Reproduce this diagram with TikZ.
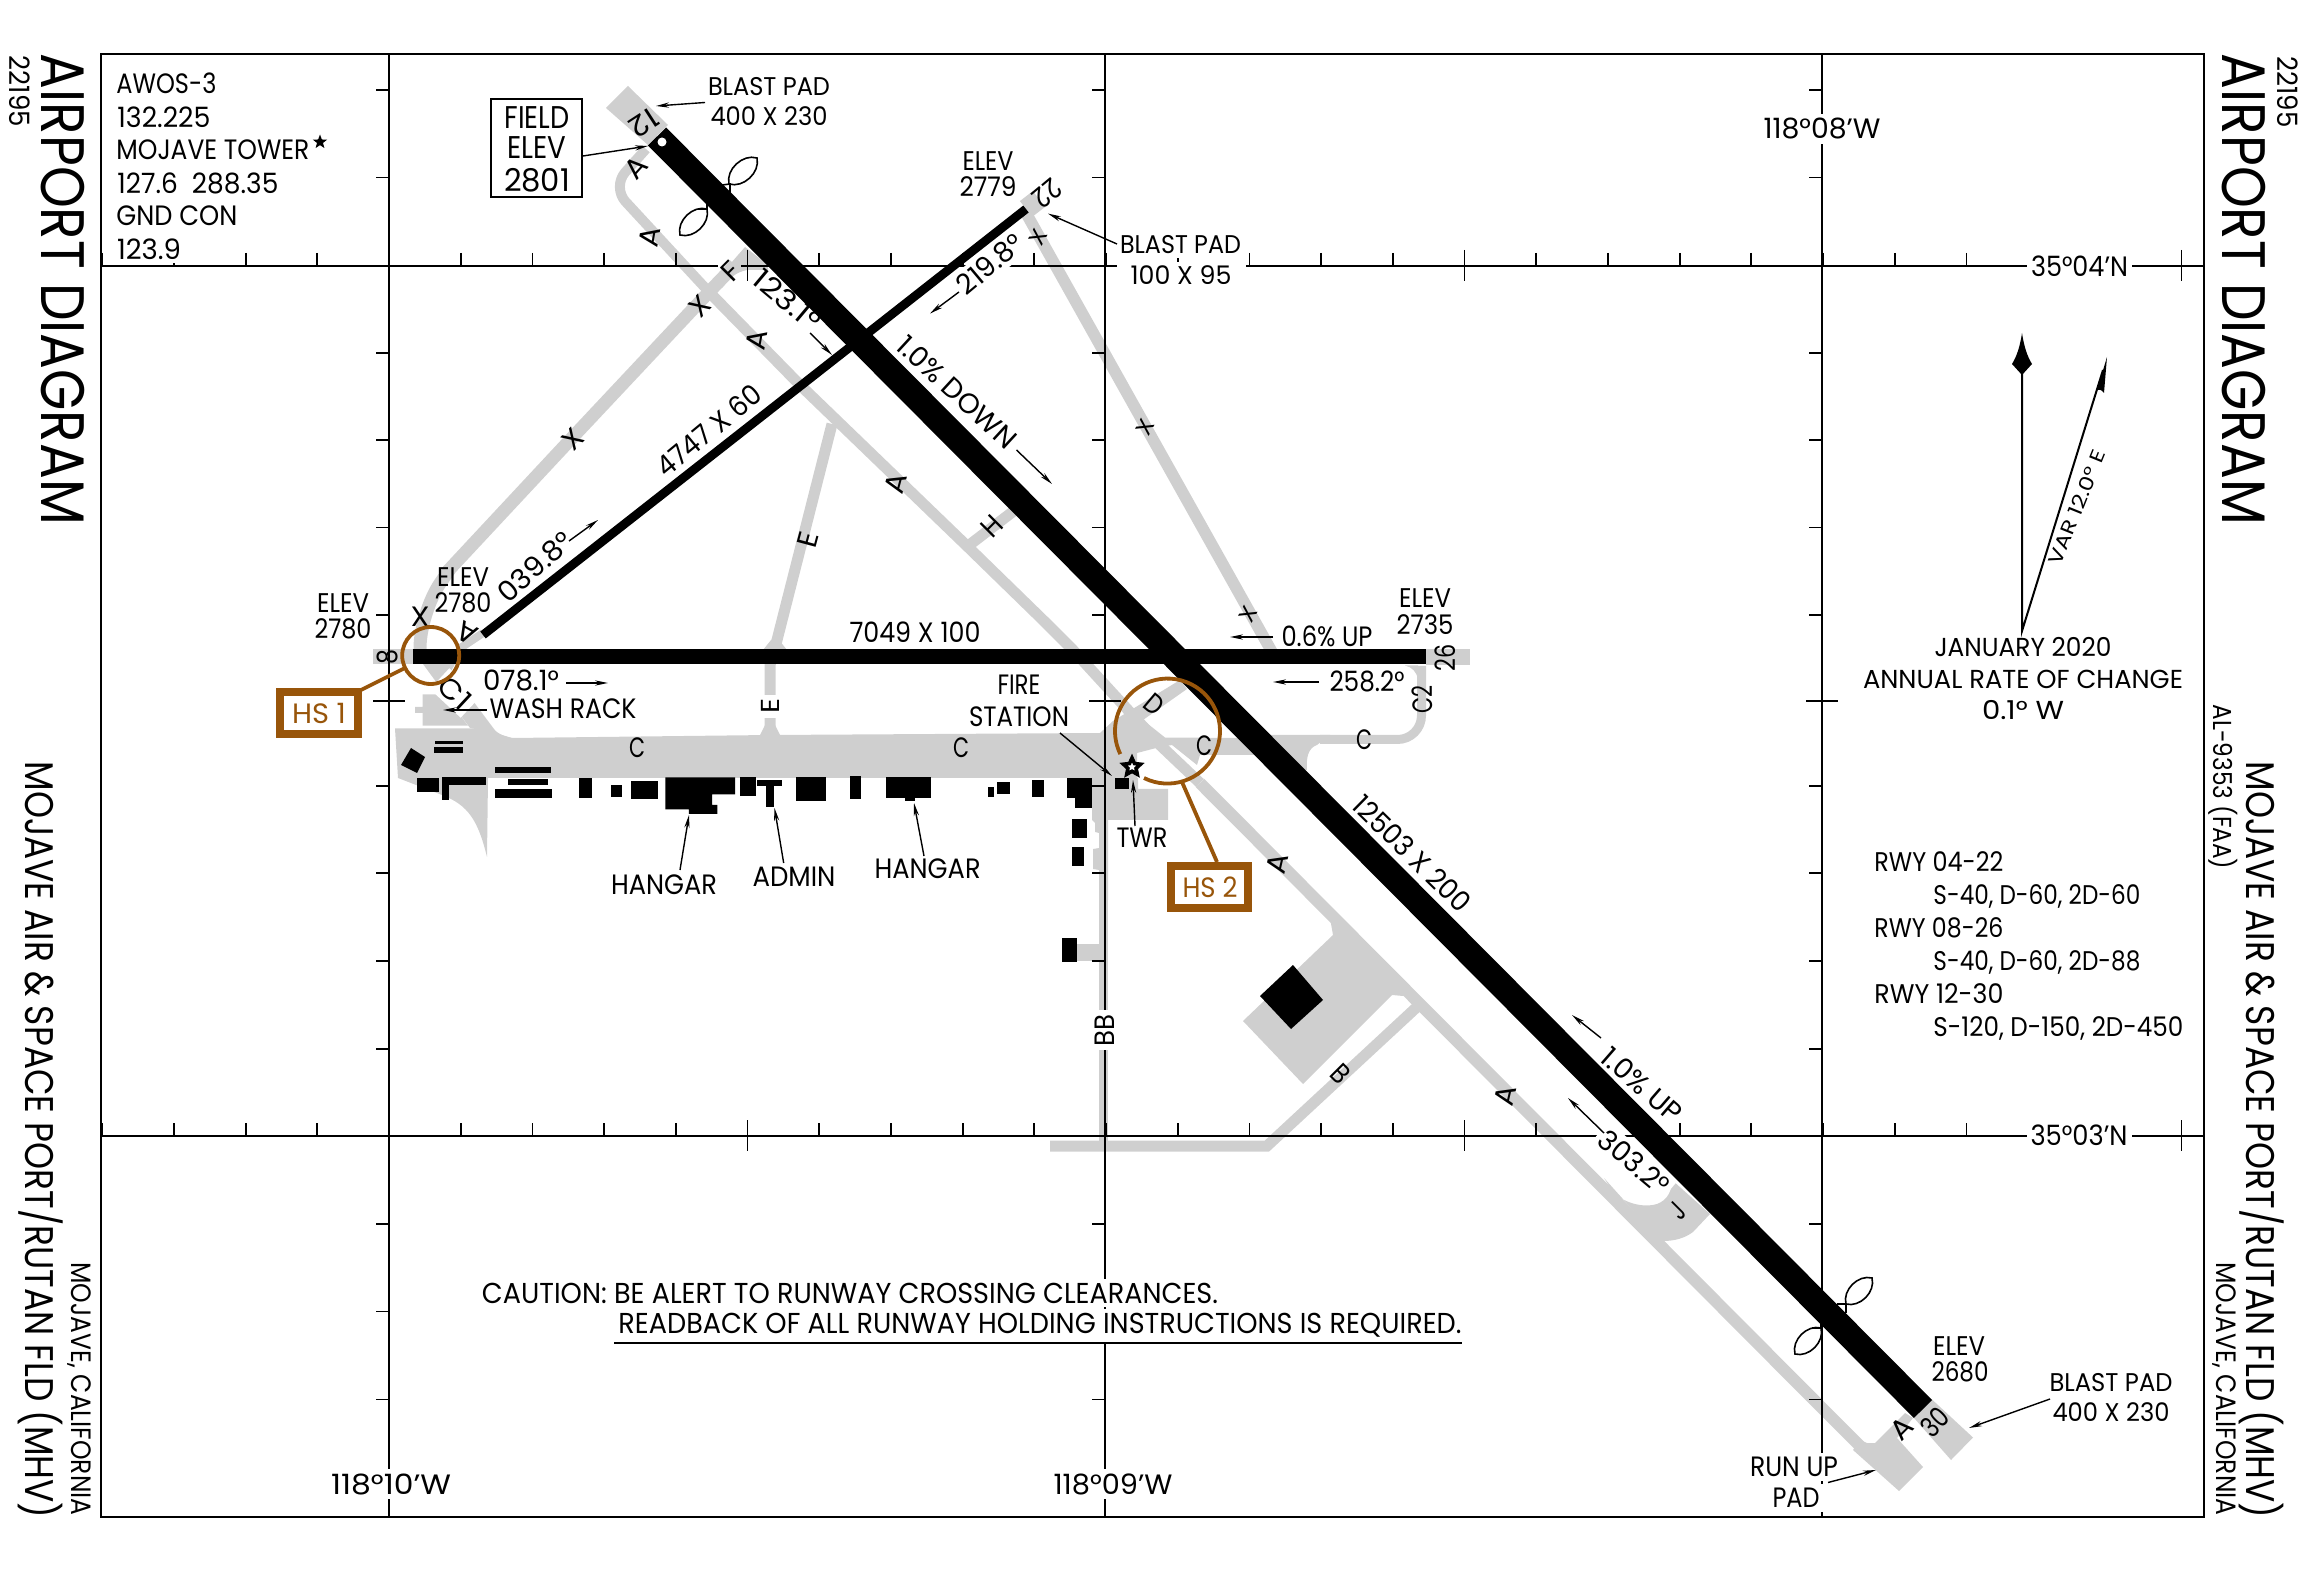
\documentclass[tikz,border=0pt]{standalone}
\usepackage{fontspec}
\usepackage{graphicx}
\setmainfont{Poppins}[FakeStretch=0.8]
\usetikzlibrary{arrows.meta,shapes.geometric}
\definecolor{gry}{HTML}{CFCFCF}
\definecolor{hsb}{HTML}{98550A}
\newcommand{\TT}[3]{\fontsize{#2}{#2}\selectfont\resizebox{\dimexpr #1pt/2\relax}{\height}{#3}}
\newcommand{\lb}[7][]{\node[lbl,#1] (#2) at (#3) [rotate=#4] {\TT{#5}{#6}{#7}};}
\tikzset{
 lbl/.style={inner sep=0pt,anchor=center,text=black},
 msk/.style={fill=white,inner sep=2pt},
 tx/.style={draw=gry,line width=5.5pt,line join=round},
 gridl/.style={draw=black,line width=1.15pt},
 tickl/.style={draw=black,line width=0.9pt},
 arr/.style={draw=black,line width=0.7pt,-{Stealth[length=6.5pt,width=2.6pt]}},
 bld/.style={fill=black},
 leaf/.style={draw=black,line width=0.8pt},
 hs/.style={draw=hsb,line width=1.9pt},
}
\begin{document}
\begin{tikzpicture}[x=0.5pt,y=-0.5pt]
\useasboundingbox (0,0) rectangle (2299,1593);
% ---------- pavement
\fill[gry] (606,108)--(628,86)--(668,125)--(648,145)--cycle;
\fill[gry] (1951,1460)--(1973,1437.5)--(1932,1399.5)--(1914,1418)--cycle;
\fill[gry] (373,649)rectangle(413,664.5);
\fill[gry] (1426,649)rectangle(1470,665);
\draw[tx,line width=10pt] (1026,209)--(1039,199);
\draw[tx,rounded corners=10pt,line width=5pt] (646,149)--(612,187)--(709,292);
\draw[tx] (709,292)--(800,385)--(968,547)--(1045,622)--(1073,650)--(1160,745)--(1200,783);
\draw[tx,line width=6pt] (1200,783)--(1820,1406)--(1860,1446);
\draw[tx,line width=6.5pt] (709,292)--(571,439)--(447,572);
\draw[tx,line width=6.5pt,rounded corners=18pt] (450,569)--(420,612)--(420,652);
\draw[tx,line width=4pt] (459,649)--(483,633);
\draw[tx] (968,546)--(1015,510);
\draw[tx,line width=5.5pt] (832,424)--(775,648)--(770,665)--(770,737);
\draw[tx,line width=5.8pt] (1026,213)--(1272,652);
\draw[tx,line width=6.5pt] (709,292)--(735,265);
\fill[gry] (717,279)--(745,247)--(768,265)--(768,270)--(747,270)..controls(737,272)and(728,278)..(722,288)--cycle;
% C1 and wash rack
\fill[gry] (423,664)--(442,690)--(470,728)--(497,733)--(470,697)--(448,677)--(455,664)--cycle;
\fill[gry] (422.7,694.3)--(445,694.3)--(468,725.7)--(422.7,725.7)--(422.7,713)--(415,713)--(415,707)--(422.7,707)--cycle;
\fill[gry] (470,697)--(487,722)..controls(493,730)and(500,736)..(512,738)--(490,742)--(460,710)--cycle;
% main apron band
\fill[gry] (395,728.5)--(480,728.5)--(512,738)--(770,735)--(1100,733)--(1113,721)--(1180,680)--(1187,689)--(1143,720)--(1165,737.5)--(1240,738)--(1270,755)--(1200,755)--(1197,765)--(1172,745)--(1160,747)--(1137,753)--(1137,778)--(488,778)--(487,857)..controls(478,820)and(468,805)..(442,795)--(398,778)--cycle;
% E flares
\fill[gry] (759,737)--(765,725)--(775,725)--(781,737)--cycle;
\fill[gry] (763,650)--(771,640)--(779,640)--(787,650)--cycle;
% east C / C2
\draw[tx,line width=4.5pt,rounded corners=12pt] (1421.5,666)--(1421.5,739.5)--(1320,739.5);
\fill[gry] (1240,735)--(1330,735)--(1317,745)..controls(1308,748)and(1306,758)..(1307,770)--(1280,770)--cycle;
\fill[gry] (1405,665.5)--(1418,665.5)--(1418,680)..controls(1417,672)and(1412,667)..(1405,665.5)--cycle;
% lower apron + BB
\fill[gry] (1108,900)--(1108,820)--(1168,820)--(1168,789)--(1138,789)--(1138,778)--(1092,778)--(1092,820)--(1095,823)--(1095,832)--(1099,833)--(1099,848)--(1093,849)--(1093,869)--(1099,870)--(1099,900)--cycle;
\draw[tx,line width=4.5pt] (1103.5,890)--(1103.5,1146);
\fill[gry] (1075,944)rectangle(1102,961);
% B, horizontal strip
\draw[tx,line join=miter] (1050,1146)--(1267,1146)--(1418,1006);
% big apron
\fill[gry] (1243,1021)--(1333,935)--(1330,918)--(1410,990)--(1403,996)--(1392,995)--(1303,1084)--cycle;
% J pad
\fill[gry] (1604,1178)--(1613,1192)..controls(1625,1204)and(1645,1208)..(1657,1204)..controls(1668,1200)and(1672,1190)..(1672,1180)--(1710,1214)--(1693,1232)..controls(1685,1238)and(1675,1241)..(1663,1241)--(1640,1218)--cycle;
% run-up pad
\fill[gry] (1853,1450)--(1860,1440)--(1867,1443)--(1875,1443)--(1905,1413)--(1913,1418)--(1897,1438)--(1923,1467)--(1899,1491)--cycle;
% ---------- frame and grid
\draw[gridl] (101,54) rectangle (2204,1517);
\draw[gridl] (101,266)--(718,266) (741,266)--(2204,266);
\draw[gridl] (101,1136)--(2204,1136);
\draw[gridl] (389,54)--(389,1517) (1105,54)--(1105,1517) (1822,54)--(1822,1517);
\foreach \i in {0,...,29}{
 \pgfmathsetmacro{\xx}{102.2+71.7*\i}
 \pgfmathtruncatemacro{\mm}{mod(\i,10)}
 \ifnum\mm=9
  \draw[tickl] (\xx,250)--(\xx,281) (\xx,1120)--(\xx,1151);
 \else
  \draw[tickl] (\xx,253)--(\xx,266) (\xx,1123)--(\xx,1136);
 \fi
}
\foreach \lx in {389,1105,1822}{
 \foreach \yy in {90,177.5,353,440,527.5,615,785.7,873.3,961,1048.7,1223.7,1311.5,1399.5,1487}{
  \draw[tickl] (\lx-13,\yy)--(\lx,\yy);
 }
 \draw[tickl] (\lx-16,701)--(\lx+16,701);
}
% ---------- masked labels
\lb[msk]{t1239}{149,249}{0}{64}{14}{123.9}
\node[lbl,msk,inner xsep=7pt,inner ysep=2pt] (t100) at (1181,275) {\TT{101}{12.8}{100 X 95}};
\lb[msk]{tblast2}{1180.5,245}{0}{121}{12.8}{BLAST PAD}
\lb[msk]{t219}{990,264}{40}{77}{14}{219.8°}
\lb[msk]{t303}{1634,1162}{-40}{83}{14}{303.2°}
\lb[msk]{tlat4}{2079.5,266}{0}{97}{14}{35°04’N}
\lb[msk]{tlat3}{2079,1135}{0}{97}{14}{35°03’N}
\lb[msk]{tlon8}{1822,129}{0}{117}{14}{118°08’W}
\lb[msk]{tlon10}{391,1484}{0}{120}{14}{118°10’W}
\lb[msk]{tlon9}{1113,1484}{0}{119}{14}{118°09’W}
\lb[msk]{tbb}{1105,1030}{90}{32}{14}{BB}
\lb[msk]{te2}{770.5,706.5}{90}{15}{13}{E}
\lb[msk]{tc1}{455,693}{-43}{34}{14}{C1}
\lb[msk]{trun}{1794,1467}{0}{88}{14}{RUN UP}
\lb[msk]{tpad}{1796,1498}{0}{47}{14}{PAD}
\lb[msk]{tcau1}{850,1293}{0}{736}{14.4}{CAUTION: BE ALERT TO RUNWAY CROSSING CLEARANCES.}
\lb[msk]{tcau2}{1040,1325.5}{0}{843}{14.4}{READBACK OF ALL RUNWAY HOLDING INSTRUCTIONS IS REQUIRED.}
\draw[draw=black,line width=0.8pt] (614,1343)--(1462,1343);
% ---------- arrest-system loops
\draw[leaf] (729,184) to[bend left=60] (757,158) to[bend left=60] (729,184);
\draw[leaf] (707,209) to[bend left=60] (680,235) to[bend left=60] (707,209);
\draw[leaf] (722,185)--(730,184)--(730,193) (698,209)--(707,209)--(707,200);
\draw[leaf] (1846,1304) to[bend left=60] (1872,1278) to[bend left=60] (1846,1304);
\draw[leaf] (1821,1328) to[bend left=60] (1795,1354) to[bend left=60] (1821,1328);
\draw[leaf] (1837,1304)--(1846,1304)--(1846,1313) (1812,1328)--(1821,1328)--(1821,1319);
% ---------- runways
\draw[draw=black,line width=7.7pt] (412.7,656.5)--(1426,656.5);
\draw[draw=black,line width=4.4pt] (483,635)--(1026,209);
\draw[draw=black,line width=12.8pt] (657,136.5)--(1923,1409);
\fill[white] (662,142) circle[radius=4.5];
% ---------- buildings
\fill[bld] (411,748)--(425,757)--(417,773)--(401,765)--cycle;
\fill[bld] (435,741)rectangle(463,744.5);
\fill[bld] (434,747.5)rectangle(463,753.5);
\fill[bld] (417,778)rectangle(439,792);
\fill[bld] (442,777.3)rectangle(486,785.3);
\fill[bld] (442,777.3)rectangle(448.7,800);
\fill[bld] (495,767)rectangle(551,772.7);
\fill[bld] (507.7,778.7)rectangle(548.3,784.7);
\fill[bld] (495.3,789.3)rectangle(551.7,798.3);
\fill[bld] (579,778)rectangle(591.7,798.3);
\fill[bld] (611.3,784.7)rectangle(622,797);
\fill[bld] (631,781)rectangle(658,799.3);
\fill[bld] (665.3,777.3)--(735.2,777.3)--(735.2,794.3)--(712.2,794.3)--(712.2,805)--(717.3,805)--(717.3,814)--(688.8,814)--(688.8,809.3)--(665.3,809.3)--cycle;
\fill[bld] (739.8,777)rectangle(756.1,796);
\fill[bld] (756.6,780)rectangle(782.1,786);
\fill[bld] (765.8,786)rectangle(774,806.7);
\fill[bld] (796.4,777.3)rectangle(825.5,800.7);
\fill[bld] (849.5,776.3)rectangle(861.2,798.7);
\fill[bld] (885.7,777)rectangle(931,797.7);
\fill[bld] (904.6,797.7)rectangle(914.8,801);
\fill[bld] (987.8,786.7)rectangle(994.4,797);
\fill[bld] (997,782)rectangle(1010.2,794.3);
\fill[bld] (1031.5,779.7)rectangle(1044,797.3);
\fill[bld] (1067.3,778)rectangle(1092,797.7);
\fill[bld] (1074.7,797.7)rectangle(1092,808.3);
\fill[bld] (1071.7,819.3)rectangle(1086.7,838.3);
\fill[bld] (1071.7,846.7)rectangle(1084.3,865.7);
\fill[bld] (1062,937.7)rectangle(1077.3,961.7);
\fill[bld] (1114.7,778.3)rectangle(1129.3,789);
\fill[bld] (1293,965)--(1323,1000)--(1291,1029)--(1260,996)--cycle;
% tower star
\node[star,star points=5,star point ratio=2.1,fill=white,draw=black,line width=1.8pt,minimum size=9pt,inner sep=0pt] (twrstar) at (1132,767) {};
% ---------- title and margin text
\lb{tbl22195}{19.5,91.5}{-90}{71}{14}{22195}
\lb{tbrl22195}{2288,92}{-90}{71}{14}{22195}
\lb{ttitleL}{62.5,289.5}{-90}{471}{30.7}{AIRPORT DIAGRAM}
\lb{ttitleR}{2244,289.5}{-90}{471}{30.7}{AIRPORT DIAGRAM}
\lb{tnameL}{41,1140}{-90}{757}{20}{MOJAVE AIR \& SPACE PORT/RUTAN FLD (MHV)}
\lb{tnameR}{2262,1140}{-90}{757}{20}{MOJAVE AIR \& SPACE PORT/RUTAN FLD (MHV)}
\lb{tcityL}{79,1389}{-90}{253}{14}{MOJAVE, CALIFORNIA}
\lb{tcityR}{2224,1389}{-90}{253}{14}{MOJAVE, CALIFORNIA}
\lb{tal}{2223,787}{-90}{165}{13}{AL-9353 (FAA)}
% comms block
\node[lbl,anchor=west] (c1) at (116,83.5) {\TT{100}{14}{AWOS-3}};
\node[lbl,anchor=west] (c2) at (117,117) {\TT{93}{14}{132.225}};
\node[lbl,anchor=west] (c3) at (116,150) {\TT{193}{14}{MOJAVE TOWER}};
\node[star,star points=5,star point ratio=2.4,fill=black,inner sep=0pt,minimum size=7.5pt] (ctstar) at (320,142) {};
\node[lbl,anchor=west] (c4) at (117,183) {\TT{161}{14}{127.6\ \ 288.35}};
\node[lbl,anchor=west] (c5) at (116,216) {\TT{121}{14}{GND CON}};
% field elevation box
\draw[draw=black,fill=white,line width=1pt] (491,98.6) rectangle (582,197.5);
\lb{tf1}{537,118}{0}{65}{15.7}{FIELD}
\lb{tf2}{537,148}{0}{59}{15.7}{ELEV}
\lb{tf3}{537,180}{0}{66}{15.7}{2801}
\draw[arr] (583,156)--(648,146);
% blast pads
\lb{tb1a}{769,87}{0}{122}{12.8}{BLAST PAD}
\lb{tb1b}{769,116}{0}{117}{12.8}{400 X 230}
\draw[arr] (705,102.5)--(656,106);
\draw[arr] (1117,244)--(1048,213.6);
\lb{tb3a}{2111,1383}{0}{123}{12.8}{BLAST PAD}
\lb{tb3b}{2111,1412}{0}{117}{12.8}{400 X 230}
\draw[arr] (2050,1399)--(1969,1428);
\draw[arr] (1828,1482.5)--(1876,1470);
% runway end numbers
\lb{tr12}{644,123}{213}{28}{14}{12}
\lb{tr22}{1047,193}{220}{28}{14}{22}
\lb{tr8}{387,657}{90}{15}{14}{8}
\lb{tr26}{1445,658}{90}{27}{14}{26}
\lb{tr30}{1935,1422}{45}{28}{14}{30}
% elevations
\lb{te1a}{343,603}{0}{52}{13.5}{ELEV}
\lb{te1b}{343,629}{0}{57}{13.5}{2780}
\lb{te2a}{463,577}{0}{52}{13.5}{ELEV}
\lb{te2b}{463,603}{0}{57}{13.5}{2780}
\lb{te3a}{988,161}{0}{51}{13.5}{ELEV}
\lb{te3b}{988,187}{0}{57}{13.5}{2779}
\lb{te4a}{1425,598}{0}{52}{13.5}{ELEV}
\lb{te4b}{1425,625}{0}{57}{13.5}{2735}
\lb{te5a}{1959,1346}{0}{52}{13.5}{ELEV}
\lb{te5b}{1960,1372}{0}{57}{13.5}{2680}
% runway data
\lb{td1}{915,632}{0}{131}{14}{7049 X 100}
\lb{td2}{709,430}{39.5}{126}{14}{4747 X 60}
\lb{td3}{1412,853.6}{-44.5}{153}{14}{12503 X 200}
\lb{tb078}{521,681}{0}{76}{14}{078.1°}
\draw[arr] (566,683)--(608,683);
\lb{tb258}{1367,681.4}{0}{75}{14}{258.2°}
\draw[arr] (1319,682)--(1273,682);
\lb{tb039}{535,567}{42}{90}{14}{039.8°}
\draw[arr] (569,541)--(598,520);
\lb{tb123}{787,300}{-40}{78}{14}{123.1°}
\draw[arr] (810,333)--(832,355);
\draw[arr] (959,292)--(930,313.6);
\draw[arr] (1604,1133)--(1568,1098);
\lb{tg1}{957,392}{-42.6}{151}{14}{1.0\% DOWN}
\draw[arr] (1016.5,450)--(1052,484);
\lb{tg2}{1642,1085}{-41}{97}{14}{1.0\% UP}
\draw[arr] (1601,1038)--(1572,1015);
\lb{tg3}{1327,636}{0}{91}{14}{0.6\% UP}
\draw[arr] (1273,637)--(1230,637);
% facilities
\lb{tw}{563,709}{0}{147}{14}{WASH RACK}
\draw[arr] (487,710)--(443,710);
\lb{tf4}{1019,685}{0}{43}{14}{FIRE}
\lb{tf5}{1019,717}{0}{100}{14}{STATION}
\draw[arr] (1060,733)--(1112,776);
\lb{ttwr}{1142,838}{0}{51}{14}{TWR}
\draw[arr] (1135,826)--(1133,780);
\lb{th1}{664,885}{0}{106}{14}{HANGAR}
\draw[arr] (680,870)--(689,815);
\lb{tadm}{794,877}{0}{83}{14}{ADMIN}
\draw[arr] (783.7,863)--(774.5,808);
\lb{th2}{927.6,869}{0}{106}{14}{HANGAR}
\draw[arr] (924,856)--(914,803);
% taxiway letters
\lb{ta1}{636,168}{48}{20}{14}{A}
\lb{ta2}{650,237}{80}{20}{14}{A}
\lb{ta3}{756.7,340}{80}{20}{14}{A}
\lb{ta4}{896,483}{75}{20}{14}{A}
\lb{ta5}{1277,864}{77}{20}{14}{A}
\lb{ta6}{1505,1096}{77}{20}{14}{A}
\lb{ta7}{1902,1429}{45}{20}{14}{A}
\lb{ta8}{466.7,632.7}{151}{20}{14}{A}
\lb{tx1}{700,306}{45}{18}{14}{X}
\lb{tx2}{573,439}{45}{18}{14}{X}
\lb{tx3}{420,617}{0}{19}{14}{X}
\lb{tx4}{1038,237}{62}{15}{11}{X}
\lb{tx5}{1145,427}{62}{15}{11}{X}
\lb{tx6}{1248,614}{62}{15}{11}{X}
\lb{tF}{730.7,271.7}{45}{15}{14}{F}
\lb{tE}{807.6,540}{75}{15}{14}{E}
\lb{tH}{991.6,526}{45}{18}{14}{H}
\lb{tC1}{637,748}{0}{16}{14}{C}
\lb{tC2}{961,748}{0}{16}{14}{C}
\lb{tC3}{1204,746}{0}{16}{14}{C}
\lb{tC4}{1364,740}{0}{16}{14}{C}
\lb{tC5}{1422,700}{90}{28}{14}{C2}
\lb{tD}{1154,704}{-40}{17}{14}{D}
\lb{tB}{1341,1074}{-45}{15}{14}{B}
\lb{tJ}{1678,1211}{45}{11}{14}{J}
% RWY data block
\node[lbl,anchor=west] (r1) at (1874,862) {\TT{129}{13.5}{RWY 04-22}};
\node[lbl,anchor=west] (r2) at (1933,896) {\TT{207}{13.5}{S-40, D-60, 2D-60}};
\node[lbl,anchor=west] (r3) at (1874,928) {\TT{129}{13.5}{RWY 08-26}};
\node[lbl,anchor=west] (r4) at (1933,962) {\TT{207}{13.5}{S-40, D-60, 2D-88}};
\node[lbl,anchor=west] (r5) at (1874,994) {\TT{129}{13.5}{RWY 12-30}};
\node[lbl,anchor=west] (r6) at (1933,1028) {\TT{250}{13.5}{S-120, D-150, 2D-450}};
% compass
\draw[draw=black,line width=1pt] (2022,370)--(2022,631)--(2103,370);
\fill[black] (2022,333)..controls(2024,346)and(2027,356)..(2032,364)--(2022,375)--(2012,364)..controls(2017,356)and(2020,346)..(2022,333)--cycle;
\fill[black] (2107,357)--(2097,390)..controls(2099,389)and(2102,390)..(2104,393)--cycle;
\lb{tvar}{2077,507}{68}{122}{9.7}{VAR 12.0° E}
\lb{tj1}{2023,647}{0}{177}{13}{JANUARY 2020}
\lb{tj2}{2023,679}{0}{320}{13}{ANNUAL RATE OF CHANGE}
\lb{tj3}{2023,710}{0}{82}{13}{0.1° W}
% hot spots
\draw[hs] (430.7,655.5) circle[radius=28.5];
\draw[hs] (405,668)--(361,690);
\draw[draw=hsb,line width=4pt] (280,692) rectangle (358,734);
\lb{ths1}{319,713}{0}{54}{14}{\textcolor{hsb}{HS 1}}
\draw[hs] (1144,778) arc[start angle=116.6,end angle=-206,radius=52.5];
\draw[hs] (1182,782)--(1217,862);
\draw[draw=hsb,line width=4pt] (1171,866) rectangle (1248,908);
\lb{ths2}{1210,887}{0}{55}{14}{\textcolor{hsb}{HS 2}}
\end{tikzpicture}
\end{document}
